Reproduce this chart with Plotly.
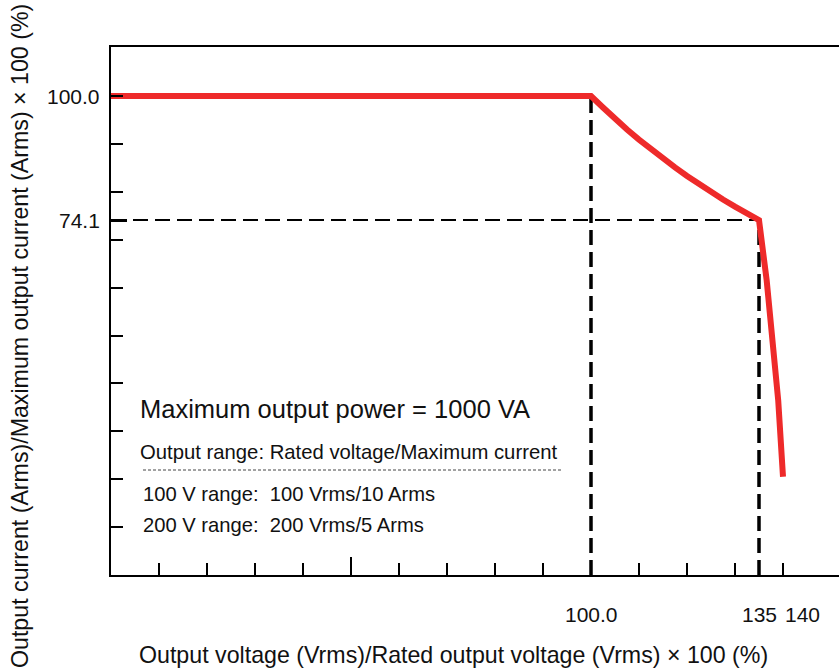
import plotly.graph_objects as go

# Output current limit curve (percent of rated voltage vs percent of max current)
voltage_pct = [0, 100, 102.5, 105, 107.5, 110, 112.5, 115, 117.5, 120, 122.5, 125,
               127.5, 130, 132.5, 135, 136.6, 137.9, 139.0, 140.0]
current_pct = [100, 100, 97.6, 95.2, 93.0, 90.9, 88.9, 87.0, 85.1, 83.3, 81.6, 80.0,
               78.4, 76.9, 75.5, 74.1, 61.5, 47.0, 36.5, 20.5]

knee_voltage = 135
knee_current = 74.1
rated_voltage = 100
rated_current = 100

x_tick_labels = {100: "100.0", 135: "135", 140: "140"}
y_tick_labels = {100: "100.0", 74.1: "74.1"}

x_minor_ticks = [10, 20, 30, 40, 60, 70, 80, 90, 100, 110, 120, 130, 140]
y_minor_ticks = [10, 20, 30, 40, 50, 60, 70, 80, 90, 100]

title_text = "Maximum output power = 1000 VA"
range_header = "Output range: Rated voltage/Maximum current"
range_lines = ["100 V range:  100 Vrms/10 Arms", "200 V range:  200 Vrms/5 Arms"]

FONT = "Liberation Sans, Arial, sans-serif"
RED = "#ee2a2a"
INK = "#111"

fig = go.Figure()

fig.add_trace(go.Scatter(
    x=voltage_pct, y=current_pct, mode="lines",
    line=dict(color=RED, width=6),
    hoverinfo="skip", showlegend=False,
))

# Reference dashed lines
fig.add_shape(type="line", xref="x", yref="y", x0=rated_voltage, x1=rated_voltage,
              y0=0, y1=rated_current, line=dict(color="black", width=3.5, dash="15px,7px"),
              layer="below")
fig.add_shape(type="line", xref="x", yref="y", x0=knee_voltage, x1=knee_voltage,
              y0=0, y1=knee_current, line=dict(color="black", width=3.5, dash="15px,7px"),
              layer="below")
fig.add_shape(type="line", xref="x", yref="y", x0=0, x1=knee_voltage,
              y0=knee_current, y1=knee_current, line=dict(color="black", width=2, dash="15px,7px"),
              layer="below")

# Separator between header and range lines
fig.add_shape(type="line", xref="paper", yref="paper",
              x0=(143 - 111) / 728, x1=(563 - 111) / 728,
              y0=(575 - 470) / 528, y1=(575 - 470) / 528,
              line=dict(color="#444", width=1, dash="3px,2px"))

annotations = []
for xv, txt in x_tick_labels.items():
    annotations.append(dict(x=xv, y=0, xref="x", yref="paper", text=txt, showarrow=False,
                            xanchor="center", yanchor="middle", yshift=-39,
                            xshift=19 if xv == 140 else 0,
                            font=dict(family=FONT, size=21, color=INK)))
for yv, txt in y_tick_labels.items():
    annotations.append(dict(x=0, y=yv, xref="paper", yref="y", text=txt, showarrow=False,
                            xanchor="right", yanchor="middle", xshift=-9,
                            font=dict(family=FONT, size=21, color=INK)))

annotations.append(dict(x=0, y=(575 - 409) / 528, xref="paper", yref="paper", text=title_text,
                        showarrow=False, xanchor="left", yanchor="middle", xshift=27,
                        font=dict(family=FONT, size=25.5, color=INK)))
annotations.append(dict(x=0, y=(575 - 452) / 528, xref="paper", yref="paper", text=range_header,
                        showarrow=False, xanchor="left", yanchor="middle", xshift=27,
                        font=dict(family=FONT, size=20.3, color=INK)))
for line, py in zip(range_lines, [494, 525]):
    annotations.append(dict(x=0, y=(575 - py) / 528, xref="paper", yref="paper", text=line,
                            showarrow=False, xanchor="left", yanchor="middle", xshift=30,
                            font=dict(family=FONT, size=20.2, color=INK)))

# Axis titles
annotations.append(dict(x=0.5, y=0, xref="paper", yref="paper",
                        text="Output voltage (Vrms)/Rated output voltage (Vrms) × 100 (%)",
                        showarrow=False, xanchor="center", yanchor="middle",
                        xshift=-22, yshift=-80, font=dict(family=FONT, size=23.2, color=INK)))
annotations.append(dict(x=0, y=0.5, xref="paper", yref="paper",
                        text="Output current (Arms)/Maximum output current (Arms) × 100 (%)",
                        showarrow=False, xanchor="center", yanchor="middle", textangle=-90,
                        xshift=-91, yshift=-25, font=dict(family=FONT, size=23.2, color=INK)))

fig.update_layout(
    width=839, height=669,
    margin=dict(l=111, r=0, t=47, b=94),
    paper_bgcolor="white", plot_bgcolor="white",
    showlegend=False,
    annotations=annotations,
    xaxis=dict(range=[0, 728 / 4.8], showgrid=False, zeroline=False,
               showline=True, linecolor="black", linewidth=2, mirror=True,
               ticks="inside", tickvals=[50], ticklen=18, tickwidth=2, tickcolor="black",
               showticklabels=False,
               minor=dict(tickvals=x_minor_ticks, ticks="inside", ticklen=12,
                          tickwidth=2, tickcolor="black")),
    yaxis=dict(range=[0, 528 / 4.79], showgrid=False, zeroline=False,
               showline=True, linecolor="black", linewidth=2, mirror=False,
               ticks="inside", tickvals=[74.1], ticklen=16, tickwidth=3, tickcolor="black",
               showticklabels=False,
               minor=dict(tickvals=y_minor_ticks, ticks="inside", ticklen=12,
                          tickwidth=2, tickcolor="black")),
)

fig.write_html("out.html")
